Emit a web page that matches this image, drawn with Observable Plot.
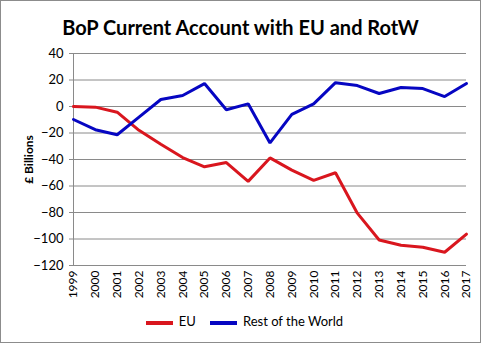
<!DOCTYPE html>
<html><head><meta charset="utf-8">
<script src="https://cdn.jsdelivr.net/npm/d3@7"></script>
<script src="https://cdn.jsdelivr.net/npm/@observablehq/plot@0.6"></script>
<style>
body{margin:0;background:#fff;}
#frame{box-sizing:border-box;width:481px;height:343px;border:1px solid #8c8c8c;font-family:Lato,"Open Sans",sans-serif;position:relative;overflow:hidden;}
#title{height:39px;line-height:53px;text-align:center;font-weight:bold;font-size:20px;color:#000;}
#legend{position:absolute;top:312px;left:4px;width:479px;text-align:center;font-size:13px;color:#000;}
.sw{display:inline-block;width:27px;height:4px;vertical-align:middle;margin:0 6px 0 0;}
.item{margin:0 7px;}
</style></head><body>
<div id="frame">
<div id="title">BoP Current Account with EU and RotW</div>
<div id="chart"></div>
<div id="legend"></div>
</div>
<script>
const years = [1999,2000,2001,2002,2003,2004,2005,2006,2007,2008,2009,2010,2011,2012,2013,2014,2015,2016,2017];
const eu = [0,-0.5,-4.3,-18,-28.5,-38.5,-45.5,-42.3,-56.5,-38.8,-48,-55.7,-50,-80.5,-100.7,-104.7,-106.2,-110,-96.3];
const rotw = [-9.8,-17.5,-21.3,-8,5.3,8.3,17.3,-2.5,2,-27.5,-6,2,18,15.8,9.8,14.3,13.5,7.5,17.3];
const seriesNames = ["EU","Rest of the World"];
const seriesColors = ["#d9161e","#0606c2"];
const yTicks = [-120,-100,-80,-60,-40,-20,0,20,40];

const data = [];
years.forEach((y,i)=>{
  data.push({year:y, value:eu[i], series:seriesNames[0]});
  data.push({year:y, value:rotw[i], series:seriesNames[1]});
});

const chart = Plot.plot({
  width: 479, height: 265,
  marginLeft: 72, marginRight: 14, marginTop: 13, marginBottom: 40,
  style: {fontFamily: "Lato, 'Open Sans', sans-serif", fontSize: "11px", color:"#000", background:"#fff"},
  x: {domain:[1999,2017], label:null},
  y: {domain:[-120,40], label:null},
  color: {domain: seriesNames, range: seriesColors},
  marks: [
    Plot.ruleY(yTicks, {stroke:"#8a8a8a", strokeWidth:1}),
    Plot.ruleX([1999], {stroke:"#8a8a8a", strokeWidth:1}),
    Plot.axisY({ticks: yTicks, tickSize:4, tickPadding:6, stroke:"#8a8a8a", label:null, fontSize:13}),
    Plot.axisX({ticks: years, tickFormat: d=>String(d), tickRotate:-90, tickSize:0, tickPadding:5, label:null, fontSize:12}),
    Plot.line(data, {x:"year", y:"value", z:"series", stroke:"series", strokeWidth:3, strokeLinejoin:"miter"}),
    Plot.text(["£ Billions"], {frameAnchor:"left", textAnchor:"middle", dx:-44, rotate:-90, fontWeight:"bold", fontSize:12})
  ]
});
document.getElementById("chart").appendChild(chart);

const leg = document.getElementById("legend");
seriesNames.forEach((n,i)=>{
  const s = document.createElement("span"); s.className="item";
  s.innerHTML = `<span class="sw" style="background:${seriesColors[i]}"></span>${n}`;
  leg.appendChild(s);
});
</script>
</body></html>
